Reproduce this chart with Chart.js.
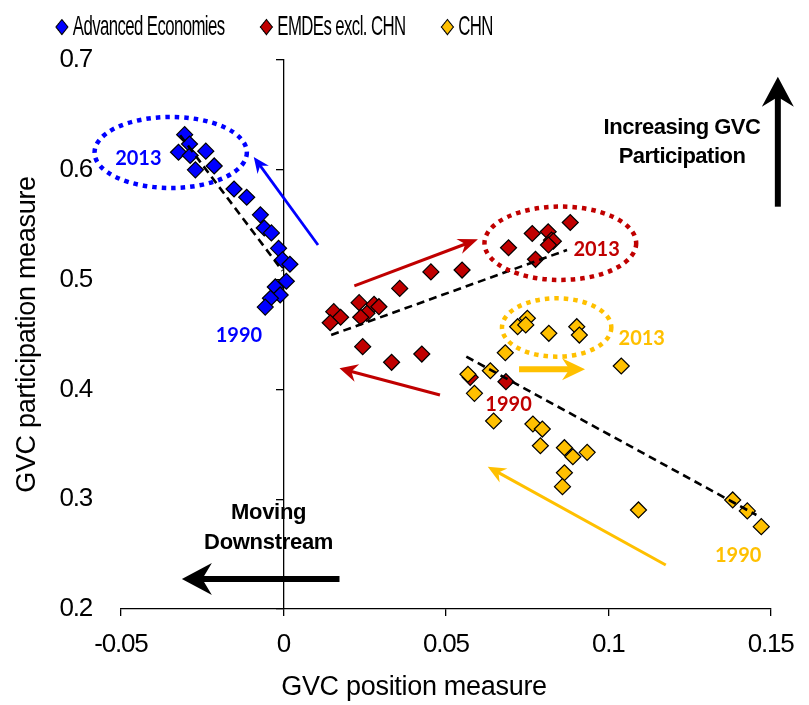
<!DOCTYPE html>
<html>
<head>
<meta charset="utf-8">
<script src="https://cdn.jsdelivr.net/npm/chart.js@4.4.1/dist/chart.umd.min.js"></script>
<style>
  html, body { margin: 0; padding: 0; background: #fff; }
</style>
</head>
<body>
<canvas id="gvc" width="809" height="705"></canvas>
<script>
// GVC position (x) and participation (y), 1990-2013
const aeX = [-0.0304, -0.0289, -0.0323, -0.0287, -0.0239, -0.0271, -0.0213, -0.0152, -0.0113, -0.0071,
             -0.0059, -0.0037, -0.0015, -0.0003, 0.0020, 0.0009, -0.0025, -0.0010, -0.0040, -0.0056];
const aeY = [0.632, 0.6235, 0.616, 0.613, 0.617, 0.600, 0.6035, 0.5825, 0.575, 0.559,
             0.547, 0.5425, 0.5285, 0.518, 0.514, 0.4985, 0.4933, 0.486, 0.483, 0.475];

const emX = [0.0883, 0.0766, 0.0815, 0.0825, 0.0831, 0.0816, 0.0693, 0.0776, 0.0454, 0.0550, 0.0358, 0.0233,
             0.0279, 0.0294, 0.0155, 0.0176, 0.0144, 0.0257, 0.0238, 0.0244, 0.0333, 0.0426, 0.0685, 0.0575];
const emY = [0.552, 0.542, 0.5436, 0.536, 0.535, 0.5315, 0.529, 0.5185, 0.507, 0.5087, 0.492, 0.479,
             0.4775, 0.4753, 0.4708, 0.4657, 0.4607, 0.4693, 0.4657, 0.4389, 0.4247, 0.4322, 0.407, 0.411];

const cnX = [0.0751, 0.0721, 0.0746, 0.0817, 0.0903, 0.0911, 0.0683, 0.1040, 0.0568, 0.0637, 0.0588, 0.0647,
             0.0768, 0.0797, 0.0791, 0.0865, 0.0891, 0.0935, 0.0865, 0.0859, 0.1093, 0.1383, 0.1428, 0.1471];
const cnY = [0.4648, 0.4571, 0.4587, 0.4511, 0.4571, 0.4495, 0.4334, 0.4213, 0.4138, 0.417, 0.3964, 0.3712,
             0.3685, 0.3639, 0.3487, 0.3469, 0.3387, 0.3427, 0.3241, 0.3114, 0.2902, 0.2993, 0.2893, 0.275];

// linear trends (end points)
const aeTrendX = [-0.0318, -0.0003], aeTrendY = [0.6315, 0.508];
const emTrendX = [0.0147, 0.0873],   emTrendY = [0.4495, 0.527];
const cnTrendX = [0.0563, 0.1456],   cnTrendY = [0.4298, 0.2856];

const seriesNames = ['Advanced Economies', 'EMDEs excl. CHN', 'CHN'];
const seriesColors = ['#0000ff', '#c00000', '#ffc000'];

const xTicks = [-0.05, 0, 0.05, 0.1, 0.15];
const yTicks = [0.2, 0.3, 0.4, 0.5, 0.6, 0.7];

// annotations, in data units
const ellipses = [
  { cx: -0.0347, cy: 0.6158, rx: 0.02344, ry: 0.03233, color: '#0000ff' },
  { cx: 0.08524, cy: 0.5331, rx: 0.02335, ry: 0.03342, color: '#c00000' },
  { cx: 0.08411, cy: 0.4564, rx: 0.01683, ry: 0.02659, color: '#ffc000' }
];
const arrows = [
  { from: [0.01065, 0.5315], to: [-0.00913, 0.6117], color: '#0000ff', w: 2.8, L: 16, H: 7 },
  { from: [0.02183, 0.4942], to: [0.05988, 0.5367], color: '#c00000', w: 3, L: 20, H: 8 },
  { from: [0.04819, 0.3949], to: [0.01726, 0.4192], color: '#c00000', w: 3, L: 18, H: 9 },
  { from: [0.07254, 0.4183], to: [0.09285, 0.4183], color: '#ffc000', w: 6, L: 23, H: 11 },
  { from: [0.1177, 0.2401],  to: [0.0629, 0.3296],  color: '#ffc000', w: 3, L: 18, H: 8 },
  { from: [0.01726, 0.2273], to: [-0.03126, 0.2273], color: '#000', w: 6, L: 30, H: 16 },
  { from: [0.1522, 0.5664],  to: [0.1522, 0.6848],  color: '#000', w: 6, L: 30, H: 16 }
];
const labels = [
  { t: '2013', x: -0.04466, y: 0.6105, color: '#0000ff', font: 'bold 20px Lato' },
  { t: '1990', x: -0.0137, y: 0.4495, color: '#0000ff', font: 'bold 20px Lato' },
  { t: '2013', x: 0.0964, y: 0.527, color: '#c00000', font: 'bold 20px Lato' },
  { t: '1990', x: 0.0693, y: 0.3858, color: '#c00000', font: 'bold 20px Lato' },
  { t: '2013', x: 0.1103, y: 0.4465, color: '#ffc000', font: 'bold 20px Lato' },
  { t: '1990', x: 0.1400, y: 0.2485, color: '#ffc000', font: 'bold 20px Lato' },
  { t: 'Moving', x: -0.00457, y: 0.2874, color: '#000', font: 'bold 22px "Liberation Sans"', sp: '-0.3px' },
  { t: 'Downstream', x: -0.00457, y: 0.2601, color: '#000', font: 'bold 22px "Liberation Sans"', sp: '-0.3px' },
  { t: 'Increasing GVC', x: 0.1227, y: 0.638, color: '#000', font: 'bold 22px "Liberation Sans"', sp: '-0.5px' },
  { t: 'Participation', x: 0.1227, y: 0.6117, color: '#000', font: 'bold 22px "Liberation Sans"', sp: '-0.5px' }
];

const SANS = '"Liberation Sans", Arial, sans-serif';
const LEG_SX = 0.6;   // the legend text in the original is squeezed sideways

function pts(xs, ys) { return xs.map((x, i) => ({ x: x, y: ys[i] })); }

// diamond for the legend (drawn wide, the legend is squeezed by LEG_SX)
function legendMark(color) {
  const c = document.createElement('canvas');
  c.width = 80; c.height = 18;
  const g = c.getContext('2d');
  g.beginPath();
  g.moveTo(66.3, 1.5); g.lineTo(76.3, 9); g.lineTo(66.3, 16.5); g.lineTo(56.3, 9); g.closePath();
  g.fillStyle = color; g.fill();
  g.lineWidth = 1.4; g.strokeStyle = '#000'; g.stroke();
  return c;
}
const marks = seriesColors.map(legendMark);

function spaced(fn, sp) {
  return function () {
    const c = this.ctx, old = c.letterSpacing;
    c.letterSpacing = sp;
    const r = fn.apply(this, arguments);
    c.letterSpacing = old;
    return r;
  };
}

function arrow(ctx, x1, y1, x2, y2, color, w, L, H) {
  const dx = x2 - x1, dy = y2 - y1, len = Math.hypot(dx, dy);
  const ux = dx / len, uy = dy / len, px = -uy, py = ux;
  const nx = x2 - ux * L * 0.68, ny = y2 - uy * L * 0.68;
  ctx.save();
  ctx.strokeStyle = color; ctx.fillStyle = color; ctx.lineWidth = w;
  ctx.beginPath(); ctx.moveTo(x1, y1); ctx.lineTo(nx + ux, ny + uy); ctx.stroke();
  ctx.beginPath();
  ctx.moveTo(x2, y2);
  ctx.lineTo(x2 - ux * L + px * H, y2 - uy * L + py * H);
  ctx.lineTo(nx, ny);
  ctx.lineTo(x2 - ux * L - px * H, y2 - uy * L - py * H);
  ctx.closePath(); ctx.fill();
  ctx.restore();
}

const decor = {
  id: 'decor',
  afterInit(chart) {
    const lg = chart.legend;
    const fit = spaced(lg.fit, '-1px'), draw = lg.draw;
    // legend is laid out in unsqueezed units, so widen it while measuring/drawing
    lg.fit = function () {
      const mw = this.maxWidth;
      this.maxWidth = mw / LEG_SX;
      fit.call(this);
      this.maxWidth = mw;
      this.width = mw;
      this.height = 60;
    };
    lg.draw = function () {
      const c = this.ctx, r = this.right;
      this.right = this.left + this.width / LEG_SX;
      c.save(); c.translate(20, 0); c.scale(LEG_SX, 1); c.letterSpacing = '-1px';
      draw.call(this);
      c.restore();
      this.right = r;
    };
  },
  beforeDraw(chart) {
    Object.values(chart.scales).forEach(s => {
      if (s._spaced) return;
      s._spaced = true;
      s.drawLabels = spaced(s.drawLabels, '-1.2px');
      s.drawTitle = spaced(s.drawTitle, '-0.3px');
    });
  },
  afterDraw(chart) {
    const ctx = chart.ctx, xs = chart.scales.x, ys = chart.scales.y;
    const X = v => xs.getPixelForValue(v), Y = v => ys.getPixelForValue(v);
    ctx.save();
    ellipses.forEach(e => {
      ctx.beginPath();
      ctx.ellipse(X(e.cx), Y(e.cy), Math.abs(X(e.cx + e.rx) - X(e.cx)), Math.abs(Y(e.cy + e.ry) - Y(e.cy)), 0, 0, Math.PI * 2);
      ctx.setLineDash([4.5, 5]);
      ctx.lineWidth = 4.5;
      ctx.strokeStyle = e.color;
      ctx.stroke();
    });
    ctx.setLineDash([]);
    arrows.forEach(a => arrow(ctx, X(a.from[0]), Y(a.from[1]), X(a.to[0]), Y(a.to[1]), a.color, a.w, a.L, a.H));
    ctx.textAlign = 'center';
    ctx.textBaseline = 'middle';
    labels.forEach(l => {
      ctx.font = l.font;
      ctx.letterSpacing = l.sp || '0px';
      ctx.fillStyle = l.color;
      ctx.fillText(l.t, X(l.x), Y(l.y));
    });
    // x axis title
    ctx.font = '27px ' + SANS;
    ctx.letterSpacing = '-0.3px';
    ctx.fillStyle = '#000';
    ctx.fillText('GVC position measure', 414, 688);
    ctx.restore();
  }
};

const tickFont = { family: SANS, size: 26 };
const trendStyle = { type: 'scatter', showLine: true, borderColor: '#000', borderWidth: 2.6, borderDash: [8, 5], pointRadius: 0, fill: false, order: 0 };
const dotStyle = { borderColor: '#000', borderWidth: 1.2, pointStyle: 'rectRot', pointRadius: 8, pointHoverRadius: 8 };

new Chart(document.getElementById('gvc'), {
  type: 'scatter',
  data: {
    datasets: [
      Object.assign({ label: seriesNames[0], data: pts(aeX, aeY), backgroundColor: seriesColors[0], order: 3 }, dotStyle),
      Object.assign({ label: seriesNames[1], data: pts(emX, emY), backgroundColor: seriesColors[1], order: 2 }, dotStyle),
      Object.assign({ label: seriesNames[2], data: pts(cnX, cnY), backgroundColor: seriesColors[2], order: 1 }, dotStyle),
      Object.assign({ label: 'trend AE', data: pts(aeTrendX, aeTrendY) }, trendStyle),
      Object.assign({ label: 'trend EMDE', data: pts(emTrendX, emTrendY) }, trendStyle),
      Object.assign({ label: 'trend CHN', data: pts(cnTrendX, cnTrendY) }, trendStyle)
    ]
  },
  options: {
    responsive: false,
    animation: false,
    devicePixelRatio: 1,
    layout: { padding: { left: 0, right: 31, top: 0, bottom: 0 } },
    plugins: {
      tooltip: { enabled: false },
      legend: {
        position: 'top',
        align: 'start',
        labels: {
          usePointStyle: true,
          pointStyleWidth: 61,
          padding: 13,
          color: '#000',
          font: { family: SANS, size: 28 },
          sort: (a, b) => a.datasetIndex - b.datasetIndex,
          generateLabels(chart) {
            return Chart.defaults.plugins.legend.labels.generateLabels(chart)
              .filter(it => it.datasetIndex < 3)
              .map(it => Object.assign(it, { pointStyle: marks[it.datasetIndex] }));
          }
        }
      }
    },
    scales: {
      x: {
        type: 'linear', position: 'bottom', min: -0.05, max: 0.15,
        afterBuildTicks: s => { s.ticks = xTicks.map(v => ({ value: v })); },
        ticks: { padding: 13, color: '#000', font: tickFont, callback: v => String(Number(v.toFixed(2))) },
        grid: { drawOnChartArea: false, tickLength: 7, color: '#000', lineWidth: 1.3 },
        border: { color: '#000', width: 1.3 },
        afterFit: s => { s.height = 96; }
      },
      y: {
        type: 'linear', position: 'left', min: 0.2, max: 0.7,
        afterBuildTicks: s => { s.ticks = yTicks.map(v => ({ value: v })); },
        ticks: { padding: 29, color: '#000', font: tickFont, callback: v => v.toFixed(1) },
        grid: { display: false, drawTicks: false },
        border: { display: false },
        title: { display: true, text: 'GVC participation measure', color: '#000', font: { family: SANS, size: 27 }, padding: { top: 11, bottom: 0 } },
        afterFit: s => { s.width = 121; }
      },
      y0: {
        type: 'linear', axis: 'y', position: { x: 0 }, min: 0.2, max: 0.7,
        afterBuildTicks: s => { s.ticks = yTicks.map(v => ({ value: v })); },
        ticks: { display: false },
        grid: { drawOnChartArea: false, tickLength: 7, color: '#000', lineWidth: 1.3 },
        border: { color: '#000', width: 1.3 }
      }
    }
  },
  plugins: [decor]
});
</script>
</body>
</html>
